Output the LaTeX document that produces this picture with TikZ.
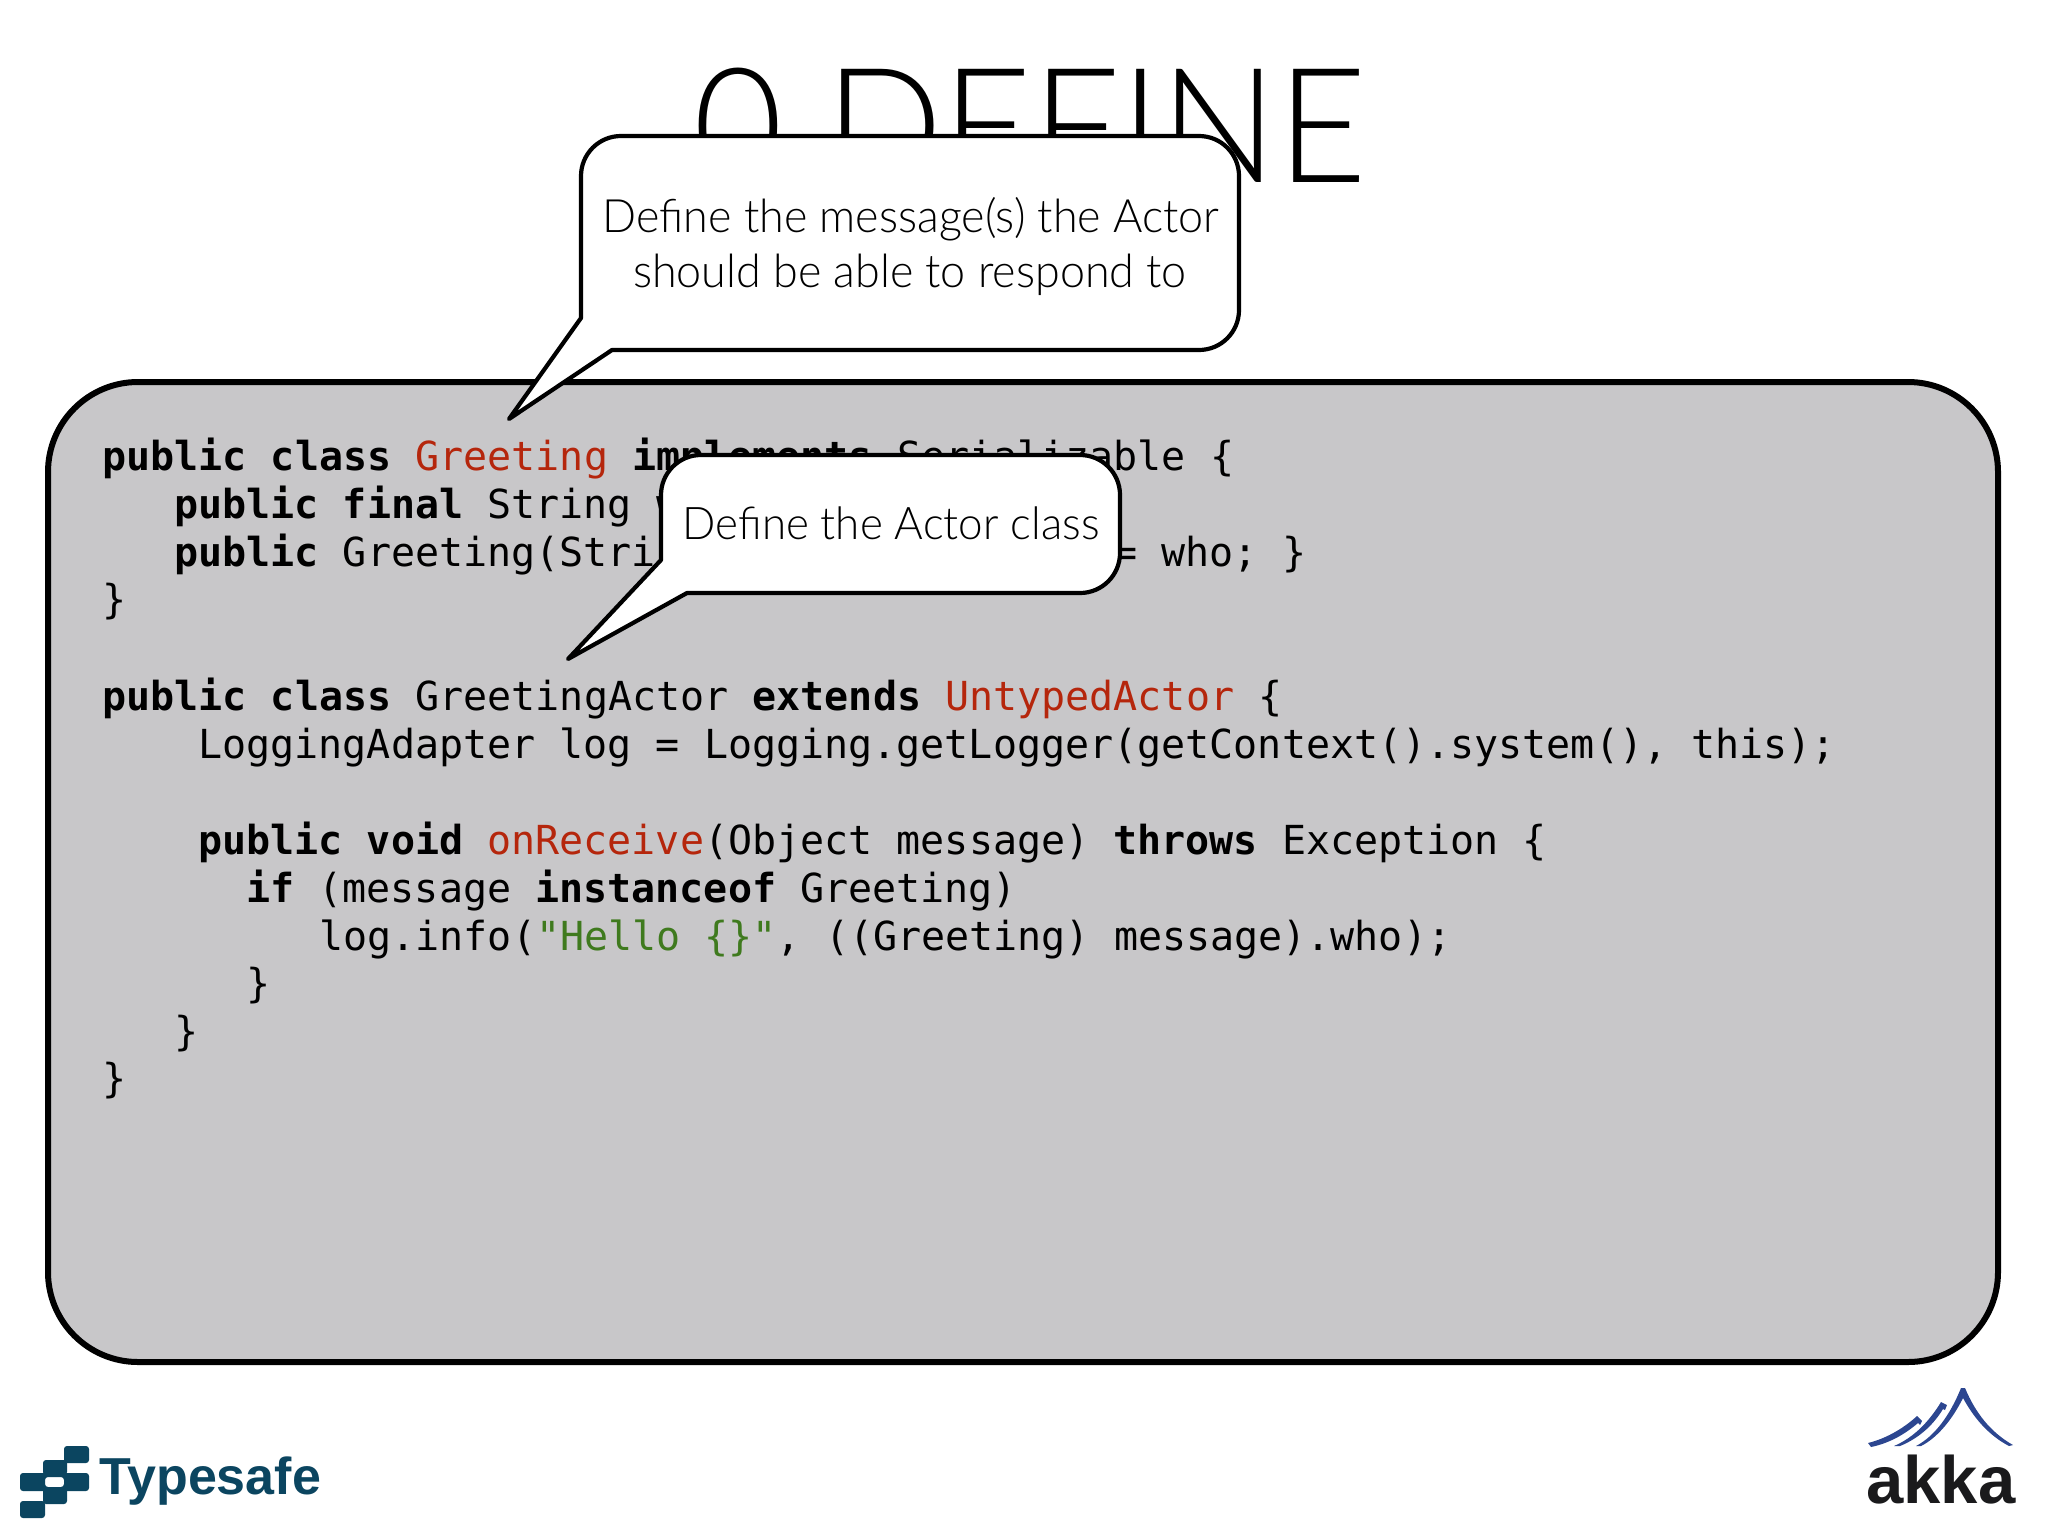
\documentclass[tikz,border=0pt]{standalone}
\usepackage{fontspec}
\setmainfont{Liberation Sans}
\setmonofont{DejaVu Sans Mono}
\newfontfamily\gill[UprightFont=* Light,FakeStretch=0.968]{Lato}
\newfontfamily\gillnarrow[UprightFont=* Light,FakeStretch=0.975]{Lato}
\definecolor{panel}{HTML}{C8C7C9}
\definecolor{kw}{HTML}{B5260C}
\definecolor{strc}{HTML}{3F7A1E}
\definecolor{tsblue}{HTML}{0B4560}
\definecolor{akblue}{HTML}{2C4690}
\definecolor{akblack}{HTML}{1A1A1C}
\newcommand{\kwb}[1]{\textbf{#1}}
\newcommand{\red}[1]{\textcolor{kw}{#1}}
\tikzset{
  code/.style={anchor=base west,inner sep=0pt,font=\ttfamily\fontsize{20}{24}\selectfont,text=black},
  bubble/.style={draw=black,fill=white,line width=2.1pt,line join=round},
  bubtext/.style={anchor=base,inner sep=0pt,font=\gillnarrow\fontsize{22.5}{26}\selectfont,text=black},
  bubtextwide/.style={bubtext,font=\gillnarrow\fontsize{23}{26}\selectfont},
  tsblock/.style={fill=tsblue,rounded corners=1.5pt},
  peak/.style={fill=akblue}
}
\begin{document}
\begin{tikzpicture}[x=0.5pt,y=-0.5pt]
\useasboundingbox (0,0) rectangle (2048,1536);
\fill[white] (0,0) rectangle (2048,1536);
\node[anchor=base west,inner sep=0pt,font=\gill\fontsize{80}{90}\selectfont] (title) at (693,182) {0 DEFINE};
\draw[fill=panel,draw=black,line width=3pt,rounded corners=45pt] (48,382) rectangle (1998,1362);
\node[code] (l1) at (102,470) {\kwb{public} \kwb{class} \red{Greeting} \kwb{implements} Serializable \{};
\node[code] (l2) at (174,518) {\kwb{public} \kwb{final} String who;};
\node[code] (l3) at (174,566) {\kwb{public} Greeting(String who) \{ this.who = who; \}};
\node[code] (l4) at (102,613) {\}};
\node[code] (l5) at (102,710) {\kwb{public} \kwb{class} GreetingActor \kwb{extends} \red{UntypedActor} \{};
\node[code] (l6) at (198,758) {LoggingAdapter log = Logging.getLogger(getContext().system(), this);};
\node[code] (l7) at (198,854) {\kwb{public} \kwb{void} \red{onReceive}(Object message) \kwb{throws} Exception \{};
\node[code] (l8) at (246,902) {\kwb{if} (message \kwb{instanceof} Greeting)};
\node[code] (l9) at (319,950) {log.info(\textcolor{strc}{"Hello \{\}"}, ((Greeting) message).who);};
\node[code] (l10) at (246,997) {\}};
\node[code] (l11) at (174,1045) {\}};
\node[code] (l12) at (102,1092) {\}};
% bubble 1
\draw[bubble] (509,419) -- (581,318) [rounded corners=20pt] -- (581,136) -- (1239,136) -- (1239,350) [sharp corners] -- (612,350) -- cycle;
\node[bubtextwide] (b1a) at (911,232) {Define the message(s) the Actor};
\node[bubtextwide] (b1b) at (910,287) {should be able to respond to};
% bubble 2
\draw[bubble] (568,659) -- (661,560) [rounded corners=20pt] -- (661,455) -- (1120,455) -- (1120,593) [sharp corners] -- (687,593) -- cycle;
\node[bubtext] (b2) at (891,539) {Define the Actor class};
% Typesafe logo
\fill[tsblock] (64,1446) rectangle (89,1463);
\fill[tsblock] (43,1460) rectangle (67,1475);
\fill[tsblock,even odd rule] (20,1473) rectangle (89,1491) (45,1477) rectangle (64,1487);
\fill[tsblock] (43,1488) rectangle (67,1504);
\fill[tsblock] (20,1501) rectangle (45,1518);
\node[anchor=base west,inner sep=0pt,font=\bfseries\fontsize{26}{30}\selectfont,text=tsblue] (ts) at (99,1494) {Typesafe};
% akka logo
\node[anchor=base west,inner sep=0pt,font=\bfseries\fontsize{33.5}{38}\selectfont,text=akblack] (ak) at (1866,1503) {akka};
\fill[peak] (1916,1446) .. controls (1935,1436) and (1950,1415) .. (1961,1388) -- (1965,1388) .. controls (1975,1412) and (1990,1432) .. (2013,1445) -- (2009,1446) .. controls (1990,1436) and (1975,1420) .. (1963,1398) .. controls (1952,1420) and (1937,1438) .. (1921,1446) -- cycle;
\fill[peak] (1894,1446) .. controls (1915,1437) and (1930,1420) .. (1941,1402) -- (1947,1405) -- (1945,1410) -- (1943,1409) .. controls (1932,1427) and (1917,1439) .. (1900,1446) -- cycle;
\fill[peak] (1868,1443) .. controls (1888,1438) and (1905,1427) .. (1917,1416) -- (1922,1421) -- (1920,1425) -- (1918,1423) .. controls (1905,1434) and (1890,1443) .. (1871,1447) -- cycle;
\end{tikzpicture}
\end{document}
